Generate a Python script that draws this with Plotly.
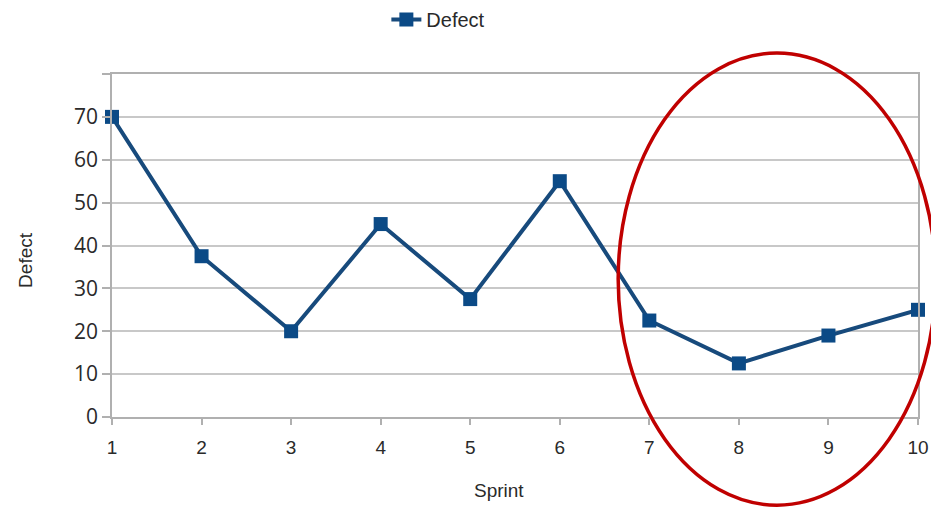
import plotly.graph_objects as go

sprints = [1, 2, 3, 4, 5, 6, 7, 8, 9, 10]
defects = [70, 37.5, 20, 45, 27.5, 55, 22.5, 12.5, 19, 25]
y_tick_vals = [0, 10, 20, 30, 40, 50, 60, 70, 80]
y_tick_text = ["0", "10", "20", "30", "40", "50", "60", "70", ""]
x_tick_vals = sprints
x_title = "Sprint"
y_title = "Defect"

blue = "#0b4a86"
grid = "#c8c8c8"
axis_col = "#b0b0b0"
txt = "#2a2a2a"
font_main = "Liberation Sans, Arial"

fig = go.Figure()
fig.add_trace(go.Scatter(
    x=sprints, y=defects, name="Defect", mode="lines+markers",
    line=dict(color="#174a7c", width=4),
    marker=dict(symbol="square", size=14, color=blue),
    cliponaxis=False,
))

fig.update_layout(
    width=931, height=507,
    paper_bgcolor="white", plot_bgcolor="white",
    margin=dict(l=112, r=13, t=74, b=90, autoexpand=False),
    showlegend=True,
    legend=dict(orientation="h", xref="container", yref="container",
                x=0.415, y=1.0, xanchor="left", yanchor="top",
                font=dict(family=font_main, size=20, color=txt),
                bgcolor="rgba(0,0,0,0)"),
    xaxis=dict(
        range=[1, 10], tickvals=x_tick_vals, showgrid=False, zeroline=False,
        showline=True, linecolor=axis_col, linewidth=1.5, mirror=True,
        ticks="outside", ticklen=6, tickcolor=axis_col, tickwidth=1.5,
        ticklabelstandoff=6,
        tickfont=dict(family=font_main, size=19, color=txt),
        automargin=False,
    ),
    yaxis=dict(
        range=[0, 80], tickvals=y_tick_vals, ticktext=y_tick_text,
        showgrid=True, gridcolor=grid, gridwidth=1.5, zeroline=False,
        showline=True, linecolor=axis_col, linewidth=1.5, mirror=True,
        ticks="outside", ticklen=8, tickcolor=axis_col, tickwidth=1.5,
        tickfont=dict(family="Open Sans, Liberation Sans", size=21, color=txt),
        automargin=False,
    ),
    annotations=[
        dict(text=x_title, xref="paper", yref="paper", x=0.480, y=-0.213,
             xanchor="center", yanchor="middle", showarrow=False,
             font=dict(family=font_main, size=19, color=txt)),
        dict(text=y_title, xref="paper", yref="paper", x=-0.1067, y=0.458,
             xanchor="center", yanchor="middle", showarrow=False, textangle=-90,
             font=dict(family=font_main, size=19, color=txt)),
    ],
)

fig.add_shape(
    type="circle", xref="paper", yref="paper",
    x0=0.628, x1=1.022, y0=-0.257, y1=1.061,
    line=dict(color="#c00000", width=3.5),
    fillcolor="rgba(0,0,0,0)",
)

fig.write_html("out.html", config={"displayModeBar": False},
               post_script="document.body.style.margin='0';")
